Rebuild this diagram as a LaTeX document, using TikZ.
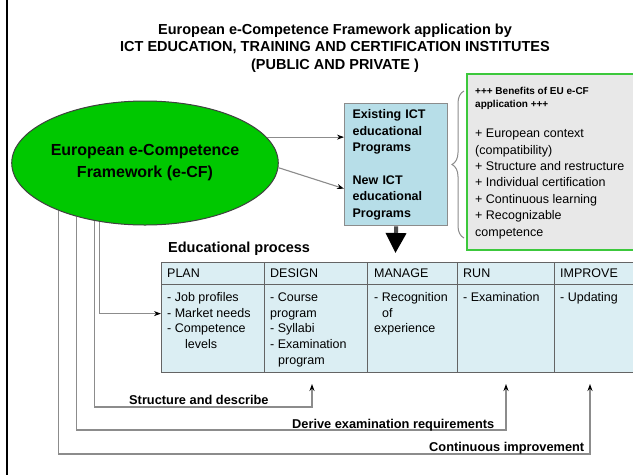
\documentclass[tikz,border=0pt]{standalone}
\usepackage{fontspec}
\setmainfont{Liberation Sans}
\usetikzlibrary{arrows.meta,decorations.pathreplacing,shapes.geometric}
\definecolor{egreen}{RGB}{0,200,0}
\definecolor{progfill}{RGB}{183,222,232}
\definecolor{cellfill}{RGB}{219,238,243}
\definecolor{cellborder}{RGB}{100,100,100}
\definecolor{linegray}{RGB}{140,140,140}
\definecolor{bgreen}{RGB}{60,200,60}
\definecolor{bgray}{RGB}{232,232,232}
\begin{document}
\begin{tikzpicture}[x=1pt,y=-1pt,
  conn/.style={draw=linegray, line width=1.1pt},
  tip/.style={-{Stealth[length=7pt,width=5pt,black]}},
  hcell/.style={draw=cellborder, line width=1.2pt, fill=cellfill, anchor=north west, minimum height=22pt, inner sep=0},
  bcell/.style={draw=cellborder, line width=1.2pt, fill=cellfill, anchor=north west, minimum height=88pt, inner sep=0},
  htext/.style={anchor=base west, inner sep=0, font=\fontsize{12.5}{15}\selectfont},
  btext/.style={anchor=north west, inner sep=0, align=left, font=\fontsize{12.5}{15.7}\selectfont},
  lab/.style={anchor=base west, inner sep=0, font=\bfseries\fontsize{12.8}{15}\selectfont},
]
\clip (0,0) rectangle (633,475);
\fill[white] (0,0) rectangle (633,475);
\draw[line width=1.5pt] (7,0) -- (7,475);

% title
\node[align=center, inner sep=0, font=\bfseries\fontsize{14.5}{17.5}\selectfont] (title) at (335,48) {European e-Competence Framework application by\\ICT EDUCATION, TRAINING AND CERTIFICATION INSTITUTES\\(PUBLIC AND PRIVATE )};

% ellipse
\node[draw=black!75, fill=egreen, ellipse, line width=1pt, minimum width=256pt, minimum height=124pt, inner sep=0, align=center, font=\bfseries\fontsize{16}{22}\selectfont] (ell) at (145,163) {European e-Competence\\Framework (e-CF)};

% programs box
\node[draw=linegray, line width=1.3pt, fill=progfill, anchor=north west, minimum width=103pt, minimum height=122pt, text width=87pt, inner xsep=8pt, inner ysep=0, align=left, font=\bfseries\fontsize{12.5}{16.4}\selectfont] (prog) at (344,103) {Existing ICT\\educational\\Programs\\[16.4pt]New ICT\\educational\\Programs};

% benefits box
\node[draw=bgreen, line width=2pt, fill=bgray, anchor=north west, minimum width=180pt, minimum height=176pt, inner sep=0] (ben) at (466,73) {};
\node[anchor=north west, inner sep=0, align=left, font=\bfseries\fontsize{10}{13}\selectfont] (benhead) at (475,85.4) {\strut+++ Benefits of EU e-CF\\application +++};
\node[anchor=north west, inner sep=0, align=left, font=\fontsize{12.5}{16.4}\selectfont] (benitems) at (475,126) {\strut+ European context\\(compatibility)\\+ Structure and restructure\\+ Individual certification\\+ Continuous learning\\+ Recognizable\\competence};

\coordinate (br1) at (464,238);
\coordinate (br2) at (464,91);
\draw[draw=linegray, line width=1pt, decorate, decoration={brace, amplitude=12pt}] (br1) -- (br2);

% connectors from ellipse to programs
\draw[conn, tip] (ell.12) -- (ell.12 -| prog.west);
\draw[conn, tip] (ell.-2) -- ([yshift=-24pt]prog.west);

% educational process
\node[anchor=base west, inner sep=0, font=\bfseries\fontsize{14.5}{17}\selectfont] (edu) at (168,252) {Educational process};

\node[hcell, minimum width=103pt] (h1) at (161,262) {};
\node[hcell, minimum width=103pt] (h2) at (264,262) {};
\node[hcell, minimum width=90pt] (h3) at (367,262) {};
\node[hcell, minimum width=97pt] (h4) at (457,262) {};
\node[hcell, minimum width=95pt] (h5) at (554,262) {};
\node[bcell, minimum width=103pt] (b1) at (161,284) {};
\node[bcell, minimum width=103pt] (b2) at (264,284) {};
\node[bcell, minimum width=90pt] (b3) at (367,284) {};
\node[bcell, minimum width=97pt] (b4) at (457,284) {};
\node[bcell, minimum width=95pt] (b5) at (554,284) {};

\node[htext] (t1) at (167,277.5) {PLAN};
\node[htext] (t2) at (270,277.5) {DESIGN};
\node[htext] (t3) at (374,277.5) {MANAGE};
\node[htext] (t4) at (463,277.5) {RUN};
\node[htext] (t5) at (560,277.5) {IMPROVE};

\node[btext] (x1) at (167,290.4) {\strut- Job profiles\\- Market needs\\- Competence\\\hspace*{18pt}levels};
\node[btext] (x2) at (270,290.4) {\strut- Course\\program\\- Syllabi\\- Examination\\\hspace*{8pt}program};
\node[btext] (x3) at (374,290.4) {\strut- Recognition\\\hspace*{8pt}of\\experience};
\node[btext] (x4) at (463,290.4) {\strut- Examination};
\node[btext] (x5) at (560,290.4) {\strut- Updating};

% big arrow
\coordinate (bigtip) at (395.5,253);
\draw[line width=4pt, draw=black!70, -{Triangle[width=20pt,length=20pt,black]}] (prog.south) -- (bigtip);

% feedback loops
\coordinate (s1) at (312,407);
\coordinate (s1t) at (312,384);
\coordinate (s2) at (506,430);
\coordinate (s2t) at (506,384);
\coordinate (s3) at (590,454);
\coordinate (s3t) at (590,384);
\draw[conn, tip] (ell.232) |- ([yshift=15pt]b1.west);
\draw[conn, tip] (ell.229) |- (s1) -- (s1t);
\draw[conn, tip] (ell.218) |- (s2) -- (s2t);
\draw[conn, tip] (ell.209) |- (s3) -- (s3t);

\node[lab] (l1) at (129,404.5) {Structure and describe};
\node[lab] (l2) at (292,428) {Derive examination requirements};
\node[lab] (l3) at (429,451.5) {Continuous improvement};
\end{tikzpicture}
\end{document}
